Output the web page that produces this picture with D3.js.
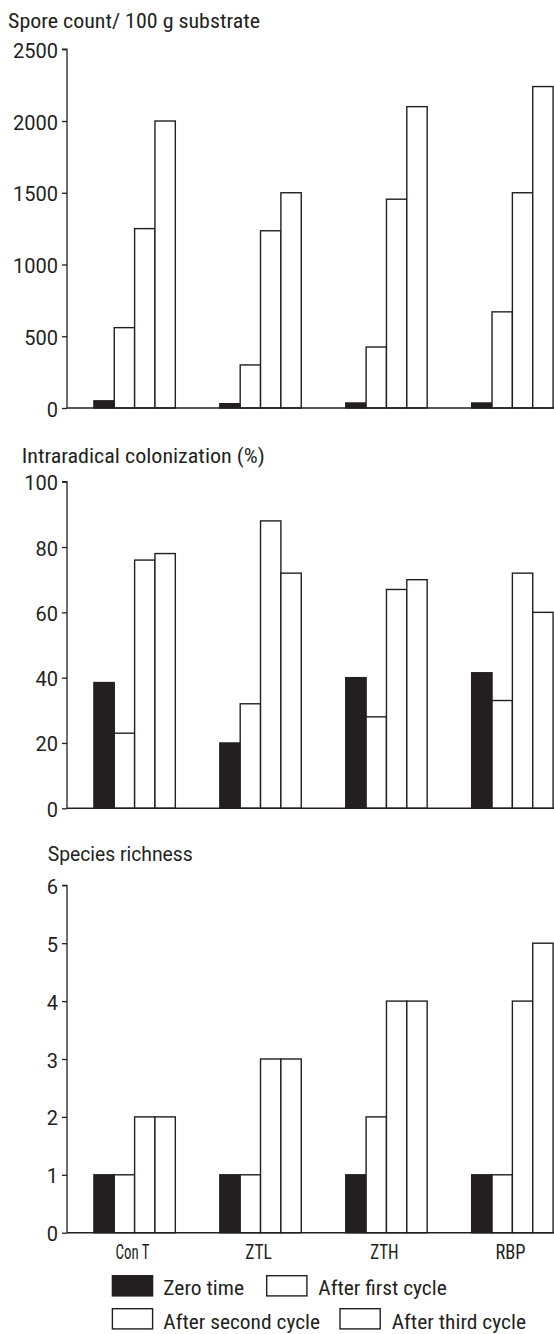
<!DOCTYPE html>
<html>
<head>
<meta charset="utf-8">
<script src="https://cdn.jsdelivr.net/npm/d3@7"></script>
<style>
  html, body { margin: 0; padding: 0; background: #fff; }
  svg { display: block; }
  .narrow { font-family: "Liberation Sans Narrow", "Roboto Condensed", "DejaVu Sans Condensed", "Liberation Sans", sans-serif; }
  .tick text { font-family: Roboto, "Liberation Sans", sans-serif; }
</style>
</head>
<body>
<script>
// Treatments on the x axis and the four sampling times
const categories = ["Con T", "ZTL", "ZTH", "RBP"];
const seriesNames = ["Zero time", "After first cycle", "After second cycle", "After third cycle"];

// Spore count per 100 g substrate
const sporeZero   = [50, 30, 35, 35];
const sporeFirst  = [560, 300, 425, 670];
const sporeSecond = [1250, 1235, 1455, 1500];
const sporeThird  = [2000, 1500, 2100, 2240];
const sporeTicks  = [0, 500, 1000, 1500, 2000, 2500];

// Intraradical colonization (%)
const colonZero   = [38.5, 20, 40, 41.5];
const colonFirst  = [23, 32, 28, 33];
const colonSecond = [76, 88, 67, 72];
const colonThird  = [78, 72, 70, 60];
const colonTicks  = [0, 20, 40, 60, 80, 100];

// Species richness
const richZero   = [1, 1, 1, 1];
const richFirst  = [1, 1, 2, 1];
const richSecond = [2, 3, 4, 4];
const richThird  = [2, 3, 4, 5];
const richTicks  = [0, 1, 2, 3, 4, 5, 6];

const W = 554, H = 1334;
const ink = "#231f20";
const seriesFill = [ink, "#fff", "#fff", "#fff"];

const svg = d3.select("body").append("svg")
  .attr("width", W).attr("height", H);

const axisX = 67;

// Treatment groups and bars within each group
const x0 = d3.scaleBand().domain(categories)
  .range([axisX, 580]).paddingInner(0.3535).paddingOuter(0.2137);
const x1 = d3.scaleBand().domain(seriesNames)
  .range([0, x0.bandwidth()]).padding(0);

function drawPanel(opts) {
  const y = d3.scaleLinear().domain(opts.domain).range([opts.y0, opts.yTop]);
  const g = svg.append("g");

  // title
  g.append("text")
    .attr("class", opts.titleClass)
    .attr("x", opts.titleX).attr("y", opts.titleY)
    .attr("font-size", 19.5).attr("fill", ink)
    .attr("textLength", opts.titleW).attr("lengthAdjust", "spacingAndGlyphs")
    .text(opts.title);

  // bars
  const rows = categories.map((c, i) => ({
    cat: c,
    vals: opts.series.map((arr, k) => ({ name: seriesNames[k], k, v: arr[i] }))
  }));
  const grp = g.selectAll("g.grp").data(rows).join("g")
    .attr("class", "grp")
    .attr("transform", d => `translate(${x0(d.cat)},0)`);
  grp.selectAll("rect").data(d => d.vals).join("rect")
    .attr("x", d => x1(d.name))
    .attr("y", d => y(d.v))
    .attr("width", x1.bandwidth())
    .attr("height", d => y(0) - y(d.v))
    .attr("fill", d => seriesFill[d.k])
    .attr("stroke", ink).attr("stroke-width", 1.4);

  // y axis
  const ax = g.append("g")
    .attr("transform", `translate(${axisX},0)`)
    .call(d3.axisLeft(y).tickValues(opts.ticks).tickSize(5).tickPadding(4).tickFormat(d3.format("d")));
  ax.select(".domain").attr("stroke", ink).attr("stroke-width", 1.3)
    .attr("d", `M-5,${y(opts.domain[1])}H0V${y(0)}`);
  ax.selectAll(".tick line").attr("stroke", ink).attr("stroke-width", 1.3);
  ax.selectAll(".tick text").attr("font-size", 20).attr("fill", ink).attr("dy", "0.4em");

  // baseline
  g.append("line")
    .attr("x1", axisX).attr("x2", W)
    .attr("y1", y(0)).attr("y2", y(0))
    .attr("stroke", ink).attr("stroke-width", 1.4);
  return y;
}

drawPanel({
  title: "Spore count/ 100 g substrate", titleX: 8, titleY: 28.3, titleW: 252, titleClass: "narrow",
  domain: [0, 2500], y0: 408, yTop: 49.25, ticks: sporeTicks,
  series: [sporeZero, sporeFirst, sporeSecond, sporeThird]
});

drawPanel({
  title: "Intraradical colonization (%)", titleX: 21.7, titleY: 462.7, titleW: 243, titleClass: "narrow",
  domain: [0, 100], y0: 808.3, yTop: 481.7, ticks: colonTicks,
  series: [colonZero, colonFirst, colonSecond, colonThird]
});

drawPanel({
  title: "Species richness", titleX: 47.7, titleY: 860.7, titleW: 145, titleClass: "",
  domain: [0, 6], y0: 1232.7, yTop: 885.3, ticks: richTicks,
  series: [richZero, richFirst, richSecond, richThird]
});
svg.selectAll("text:not(.narrow)").filter(function () { return !this.closest(".tick"); })
  .attr("font-family", "Roboto, 'Liberation Sans', sans-serif");

// treatment labels under the bottom panel
const catWidths = [34, 26.7, 28.3, 30];
svg.append("g").selectAll("text").data(categories).join("text")
  .attr("class", "narrow")
  .attr("x", d => x0(d) + x0.bandwidth() / 2 - 2)
  .attr("y", 1259.3)
  .attr("text-anchor", "middle")
  .attr("font-size", 20).attr("fill", ink)
  .attr("textLength", (d, i) => catWidths[i]).attr("lengthAdjust", "spacingAndGlyphs")
  .text(d => d);

// legend
const legendPos = [
  { bx: 111.7, by: 1275, tx: 163.3, ty: 1295, tw: 80.7 },
  { bx: 266,   by: 1275, tx: 318.3, ty: 1295, tw: 128.4 },
  { bx: 111.7, by: 1308, tx: 163.3, ty: 1329, tw: 156.7 },
  { bx: 339.3, by: 1308, tx: 391.7, ty: 1329, tw: 134.3 }
];
const leg = svg.append("g").selectAll("g").data(seriesNames).join("g");
leg.append("rect")
  .attr("x", (d, i) => legendPos[i].bx + 0.7)
  .attr("y", (d, i) => legendPos[i].by + 0.7)
  .attr("width", 40.2).attr("height", 20.2)
  .attr("fill", (d, i) => seriesFill[i])
  .attr("stroke", ink).attr("stroke-width", 1.4);
leg.append("text")
  .attr("class", "narrow")
  .attr("x", (d, i) => legendPos[i].tx)
  .attr("y", (d, i) => legendPos[i].ty)
  .attr("font-size", 20).attr("fill", ink)
  .attr("textLength", (d, i) => legendPos[i].tw).attr("lengthAdjust", "spacingAndGlyphs")
  .text(d => d);
</script>
</body>
</html>
